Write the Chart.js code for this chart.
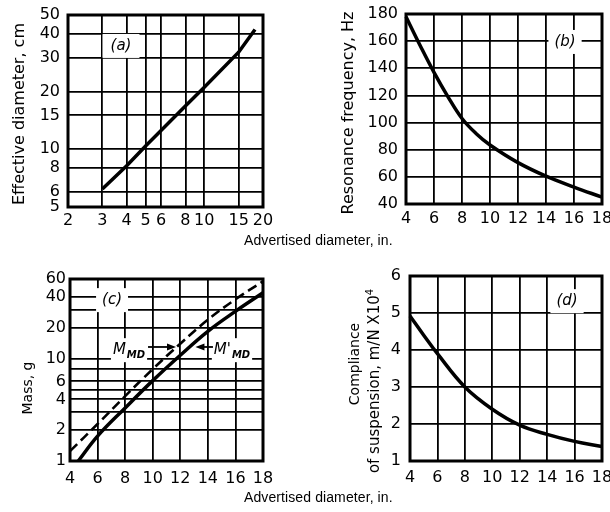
<!DOCTYPE html>
<html>
<head>
<meta charset="utf-8">
<script src="https://cdn.jsdelivr.net/npm/chart.js@4.4.1/dist/chart.umd.min.js"></script>
<style>
  body { margin: 0; width: 610px; height: 512px; position: relative; overflow: hidden; background: #fff; font-family: "DejaVu Sans", sans-serif; color: #000; }
  .panel { position: absolute; }
  .ttl { position: absolute; white-space: nowrap; font-size: 16px; line-height: 17px; }
  .rot { transform: translate(-50%, -50%) rotate(-90deg); }
  .xt { font-family: "Liberation Sans", sans-serif; font-size: 14px; letter-spacing: 0.1px; }
</style>
</head>
<body>
<div class="panel" style="left:0;top:0"><canvas id="ca" width="290" height="232"></canvas></div>
<div class="panel" style="left:300px;top:0"><canvas id="cb" width="310" height="232"></canvas></div>
<div class="panel" style="left:0;top:250px"><canvas id="cc" width="290" height="240"></canvas></div>
<div class="panel" style="left:300px;top:250px"><canvas id="cd" width="310" height="240"></canvas></div>

<div class="ttl rot" style="left:18px;top:114px">Effective diameter, cm</div>
<div class="ttl rot" style="left:347px;top:113px">Resonance frequency, Hz</div>
<div class="ttl rot" style="left:27px;top:388px;font-size:14px">Mass, g</div>
<div class="ttl rot" style="left:354px;top:364px;font-size:14px">Compliance</div>
<div class="ttl rot" style="left:372px;top:381px;font-size:15px">of suspension, m/N X10<sup style="font-size:10px">4</sup></div>
<div class="ttl xt" style="left:244px;top:232px">Advertised diameter, in.</div>
<div class="ttl xt" style="left:244px;top:489px">Advertised diameter, in.</div>

<script>
const FONT = "'DejaVu Sans', sans-serif";

// (a) effective diameter vs advertised diameter (log-log)
const diamA = [3, 4, 5, 6, 8, 10, 15, 18.2];
const effDiam = [6.2, 8.2, 10.4, 12.5, 16.8, 21, 32, 42];
const ticksAX = [2, 3, 4, 5, 6, 8, 10, 15, 20];
const ticksAY = [5, 6, 8, 10, 15, 20, 30, 40, 50];

// (b) resonance frequency
const diamB = [4, 5, 6, 7, 8, 9, 10, 12, 14, 16, 18];
const resFreq = [178, 157, 137, 119, 103, 92, 83.5, 70.5, 60.5, 52.5, 45];
const ticksBY = [40, 60, 80, 100, 120, 140, 160, 180];

// (c) mass of moving system, solid M'MD and dashed MMD
const diamC = [4.6, 6, 8, 10, 12, 14, 16, 18];
const massSolid = [1, 1.75, 3.3, 6.1, 10.8, 18.5, 29, 44];
const diamCd = [4, 6, 8, 10, 12, 14, 16, 18];
const massDash = [1.25, 2.3, 4.3, 7.9, 14, 24, 38, 57];
const ticksCY = [1, 2, 3, 4, 5, 6, 8, 10, 20, 30, 40, 60];
const labelsCY = [1, 2, 4, 6, 10, 20, 40, 60];

// (d) compliance of suspension
const diamD = [4, 5, 6, 8, 10, 12, 14, 16, 18];
const compliance = [4.92, 4.4, 3.9, 3.0, 2.4, 1.97, 1.72, 1.53, 1.39];
const ticksDY = [1, 2, 3, 4, 5, 6];

const ticksInch = [4, 6, 8, 10, 12, 14, 16, 18];

// white-boxed labels, frame and arrows
const decor = {
  id: "decor",
  beforeDatasetsDraw(chart, args, opts) {
    const { ctx, chartArea: a, scales } = chart;
    ctx.save();
    (opts.notes || []).forEach((n) => {
      const px = scales.x.getPixelForValue(n.x);
      const py = scales.y.getPixelForValue(n.y);
      ctx.font = "italic 15px " + FONT;
      const w1 = ctx.measureText(n.text).width;
      ctx.font = "italic bold 10px " + FONT;
      const w2 = n.sub ? ctx.measureText(n.sub).width + 1 : 0;
      const w = w1 + w2;
      ctx.fillStyle = "#fff";
      ctx.fillRect(px - w / 2 - n.pad, py - 12, w + 2 * n.pad, 24);
      ctx.fillStyle = "#000";
      ctx.textBaseline = "middle";
      ctx.font = "italic 15px " + FONT;
      ctx.fillText(n.text, px - w / 2, py);
      if (n.sub) {
        ctx.font = "italic bold 10px " + FONT;
        ctx.fillText(n.sub, px - w / 2 + w1 + 1, py + 5);
      }
    });
    ctx.lineWidth = 3;
    ctx.strokeStyle = "#000";
    ctx.strokeRect(a.left, a.top, a.right - a.left, a.bottom - a.top);
    ctx.restore();
  },
  afterDatasetsDraw(chart, args, opts) {
    const { ctx, scales } = chart;
    ctx.save();
    ctx.strokeStyle = "#000";
    ctx.fillStyle = "#000";
    ctx.lineWidth = 1.8;
    (opts.arrows || []).forEach((r) => {
      const x0 = scales.x.getPixelForValue(r.from);
      const x1 = scales.x.getPixelForValue(r.to);
      const y = scales.y.getPixelForValue(r.y);
      const d = Math.sign(x1 - x0);
      ctx.beginPath();
      ctx.moveTo(x0, y);
      ctx.lineTo(x1 - d * 6, y);
      ctx.stroke();
      ctx.beginPath();
      ctx.moveTo(x1, y);
      ctx.lineTo(x1 - d * 9, y - 3.5);
      ctx.lineTo(x1 - d * 9, y + 3.5);
      ctx.closePath();
      ctx.fill();
    });
    ctx.restore();
  },
};

function axis(type, pos, min, max, ticks, labels, size, pad) {
  return {
    type: type,
    position: pos,
    min: min,
    max: max,
    grid: { color: "#000", lineWidth: 1.8, drawTicks: false },
    border: { display: false },
    ticks: {
      autoSkip: false,
      maxRotation: 0,
      padding: pad,
      color: "#000",
      font: { family: FONT, size: 16 },
      callback: (v) => (labels.includes(v) ? String(v) : ""),
    },
    afterBuildTicks: (s) => {
      s.ticks = ticks.map((v) => ({ value: v }));
    },
    afterFit: (s) => {
      if (pos === "left") s.width = size;
      else s.height = size;
      s.paddingLeft = s.paddingRight = s.paddingTop = s.paddingBottom = 0;
    },
  };
}

function series(xs, ys, dashed, smooth) {
  return {
    data: xs.map((x, i) => ({ x: x, y: ys[i] })),
    borderColor: "#000",
    borderWidth: dashed ? 2.6 : 3.5,
    borderDash: dashed ? [10, 5] : [],
    pointRadius: 0,
    tension: smooth ? 0.4 : 0,
    clip: 4,
  };
}

function panel(id, datasets, x, y, padding, notes, arrows) {
  return new Chart(document.getElementById(id), {
    type: "line",
    data: { datasets: datasets },
    options: {
      responsive: false,
      animation: false,
      layout: { padding: padding },
      plugins: {
        legend: { display: false },
        tooltip: { enabled: false },
        decor: { notes: notes, arrows: arrows || [] },
      },
      scales: { x: x, y: y },
    },
    plugins: [decor],
  });
}

panel(
  "ca",
  [series(diamA, effDiam, false, false)],
  axis("logarithmic", "bottom", 2, 20, ticksAX, ticksAX, 25, 4),
  axis("logarithmic", "left", 5, 50, ticksAY, ticksAY, 68, 8),
  { top: 15, right: 27, left: 0, bottom: 0 },
  [{ x: 3.74, y: 34.5, text: "(a)", pad: 8 }]
);

panel(
  "cb",
  [series(diamB, resFreq, false, true)],
  axis("linear", "bottom", 4, 18, ticksInch, ticksInch, 28, 5),
  axis("linear", "left", 40, 180, ticksBY, ticksBY, 106, 8),
  { top: 14, right: 8, left: 0, bottom: 0 },
  [{ x: 15.36, y: 159.4, text: "(b)", pad: 6 }]
);

panel(
  "cc",
  [series(diamC, massSolid, false, true), series(diamCd, massDash, true, true)],
  axis("linear", "bottom", 4, 18, ticksInch, ticksInch, 29, 8),
  axis("logarithmic", "left", 1, 60, ticksCY, labelsCY, 70, 4),
  { top: 29, right: 27, left: 0, bottom: 0 },
  [
    { x: 7.05, y: 37.3, text: "(c)", pad: 6 },
    { x: 8.28, y: 12.1, text: "M", sub: "MD", pad: 2 },
    { x: 15.75, y: 12.1, text: "M'", sub: "MD", pad: 2 },
  ],
  [
    { from: 9.66, to: 11.69, y: 13 },
    { from: 14.37, to: 13.1, y: 13 },
  ]
);

panel(
  "cd",
  [series(diamD, compliance, false, true)],
  axis("linear", "bottom", 4, 18, ticksInch, ticksInch, 29, 7),
  axis("linear", "left", 1, 6, ticksDY, ticksDY, 110, 9),
  { top: 26, right: 8, left: 0, bottom: 0 },
  [{ x: 15.45, y: 5.32, text: "(d)", pad: 6 }]
);
</script>
</body>
</html>
